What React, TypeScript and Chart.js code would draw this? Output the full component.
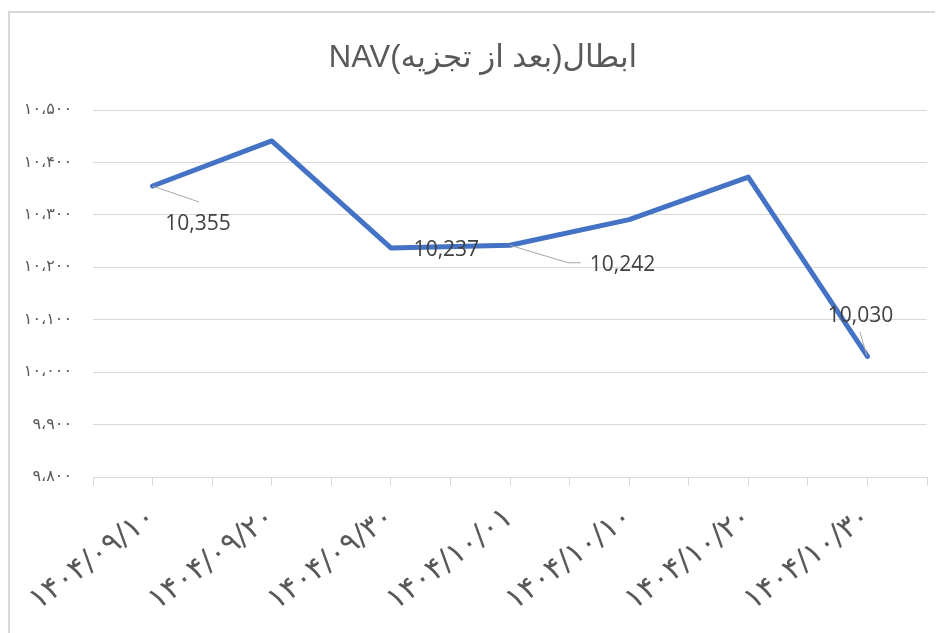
import React, { useEffect, useRef } from 'react';
import { Chart, registerables } from 'chart.js';

Chart.register(...registerables);

// ---- data ----
const categories = [
  '۱۴۰۴/۰۹/۱۰',
  '۱۴۰۴/۰۹/۲۰',
  '۱۴۰۴/۰۹/۳۰',
  '۱۴۰۴/۱۰/۰۱',
  '۱۴۰۴/۱۰/۱۰',
  '۱۴۰۴/۱۰/۲۰',
  '۱۴۰۴/۱۰/۳۰',
];
const navValues = [10355, 10441, 10237, 10242, 10291, 10372, 10030];
const labeledPoints = [0, 2, 3, 6];
const yMin = 9800;
const yMax = 10500;
const yStep = 100;
const titleText = 'ابطال(بعد از تجزیه)NAV';

// ---- styling (label placement relative to each labelled point) ----
const labelStyle: Record<number, { dx: number; dy: number; leader: [number, number][] }> = {
  0: { dx: 45.5, dy: 36, leader: [[0, 0], [46.5, 16]] },
  2: { dx: 55.5, dy: 1, leader: [] },
  3: { dx: 112.5, dy: 18.5, leader: [[0, 0], [58, 17.5], [70.7, 17.5]] },
  6: { dx: -7, dy: -42, leader: [[-7.4, -24.3], [-0.7, -1]] },
};

const faDigits = '۰۱۲۳۴۵۶۷۸۹';
const toPersian = (n: number) =>
  n
    .toLocaleString('en-US')
    .replace(/[0-9]/g, (d) => faDigits[+d])
    .replace(/,/g, '،');

const W = 933;
const H = 620;

const titlePlugin = {
  id: 'rtlTitle',
  afterDraw(chart: any) {
    const ctx = chart.ctx as CanvasRenderingContext2D;
    ctx.save();
    (ctx as any).direction = 'rtl';
    ctx.fillStyle = '#595959';
    ctx.font = '31px "Liberation Sans", Arial, "DejaVu Sans", sans-serif';
    ctx.textAlign = 'center';
    ctx.textBaseline = 'alphabetic';
    ctx.fillText(titleText, 473, 54);
    ctx.restore();
  },
};

const dataLabelPlugin = {
  id: 'navLabels',
  afterDatasetsDraw(chart: any) {
    const ctx = chart.ctx as CanvasRenderingContext2D;
    const meta = chart.getDatasetMeta(0);
    ctx.save();
    labeledPoints.forEach((i) => {
      const pt = meta.data[i];
      const st = labelStyle[i];
      if (!pt || !st) return;
      if (st.leader.length > 1) {
        ctx.beginPath();
        ctx.strokeStyle = '#a6a6a6';
        ctx.lineWidth = 1;
        st.leader.forEach(([lx, ly], k) => {
          if (k === 0) ctx.moveTo(pt.x + lx, pt.y + ly);
          else ctx.lineTo(pt.x + lx, pt.y + ly);
        });
        ctx.stroke();
      }
      ctx.fillStyle = '#404040';
      ctx.font = '21px "Open Sans", "Liberation Sans", sans-serif';
      ctx.textAlign = 'center';
      ctx.textBaseline = 'alphabetic';
      ctx.fillText(navValues[i].toLocaleString('en-US'), pt.x + st.dx, pt.y + st.dy + 7.5);
    });
    ctx.restore();
  },
};

export default function App() {
  const ref = useRef<HTMLCanvasElement | null>(null);

  useEffect(() => {
    document.documentElement.style.overflow = 'hidden';
    if (!ref.current) return;
    const chart = new Chart(ref.current, {
      type: 'line',
      data: {
        datasets: [
          {
            data: navValues.map((v, i) => ({ x: 2 * i + 1, y: v })),
            borderColor: '#4472C4',
            borderWidth: 5,
            pointRadius: 0,
            tension: 0,
            borderJoinStyle: 'round',
            borderCapStyle: 'round',
            fill: false,
          },
        ],
      },
      options: {
        responsive: false,
        animation: false,
        devicePixelRatio: 1,
        layout: { padding: { left: 0, right: 16, top: 97, bottom: 0 } },
        plugins: {
          legend: { display: false },
          tooltip: { enabled: false },
          title: { display: false },
        },
        scales: {
          x: {
            type: 'linear',
            min: 0,
            max: categories.length * 2,
            afterFit: (s: any) => {
              s.height = H - 464;
              s.paddingLeft = 0;
              s.paddingRight = 0;
            },
            grid: {
              drawOnChartArea: false,
              drawTicks: true,
              tickLength: 9,
              color: '#d9d9d9',
              lineWidth: 1,
            },
            border: { display: true, color: '#d9d9d9', width: 1 },
            ticks: {
              stepSize: 1,
              autoSkip: false,
              maxRotation: 37,
              minRotation: 37,
              padding: 14,
              color: '#595959',
              font: { size: 30, family: '"DejaVu Sans", sans-serif' },
              callback: (v: any) => {
                const n = Number(v);
                return n % 2 === 1 ? categories[(n - 1) / 2] : '';
              },
            },
          },
          y: {
            min: yMin,
            max: yMax,
            afterFit: (s: any) => {
              s.width = 83;
            },
            grid: { color: '#d9d9d9', lineWidth: 1, drawTicks: false },
            border: { display: false },
            ticks: {
              stepSize: yStep,
              padding: 21,
              color: '#595959',
              font: { size: 16, family: '"DejaVu Sans", sans-serif' },
              callback: (v: any) => toPersian(Number(v)),
            },
          },
        },
      },
      plugins: [titlePlugin, dataLabelPlugin],
    } as any);
    return () => chart.destroy();
  }, []);

  return (
    <div
      style={{
        marginTop: 3,
        width: 933,
        height: H,
        borderLeft: '2px solid #d9d9d9',
        borderTop: '2px solid #d9d9d9',
        background: '#fff',
      }}
    >
      <canvas ref={ref} width={W} height={H} style={{ display: 'block', width: W, height: H }} />
    </div>
  );
}
